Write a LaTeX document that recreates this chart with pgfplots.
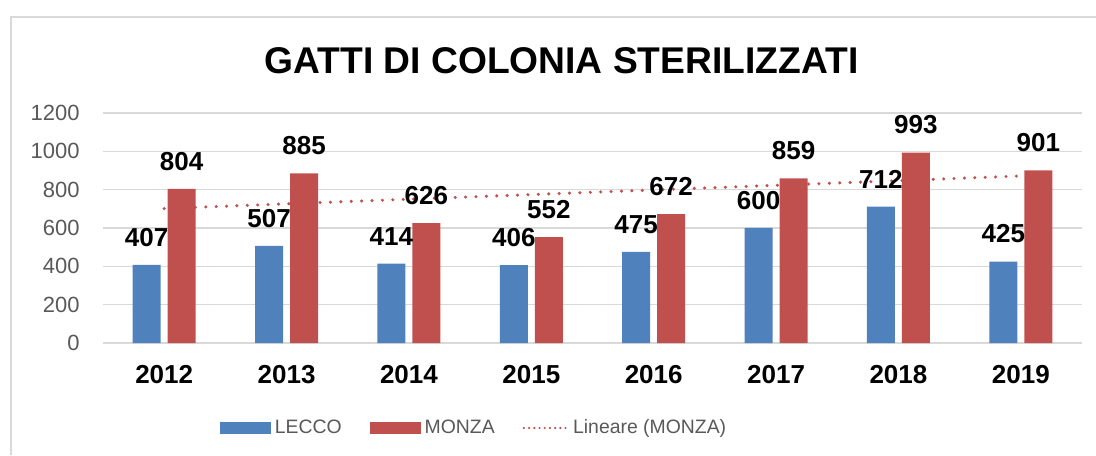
\documentclass[border=0pt]{standalone}
\usepackage{pgfplots}
\pgfplotsset{compat=1.18}
\usepackage{fontspec}
\setmainfont{Liberation Sans}
\definecolor{lblue}{HTML}{4F81BD}
\definecolor{mred}{HTML}{C0504D}
\definecolor{gridgray}{HTML}{D9D9D9}
\definecolor{txtgray}{HTML}{595959}
\begin{document}
\begin{tikzpicture}
\useasboundingbox (0,0) rectangle (548pt,227.5pt);
\draw[gridgray, line width=1pt] (5.5pt,0) -- (5.5pt,219pt) -- (548pt,219pt);
\node[font=\fontsize{18.6pt}{21pt}\selectfont\bfseries] at (280.75pt,197pt) {GATTI DI COLONIA STERILIZZATI};
\begin{axis}[
  at={(51.5pt,56pt)}, anchor=south west,
  scale only axis, width=489.5pt, height=115pt,
  xmin=-0.5, xmax=7.5, ymin=0, ymax=1200,
  ytick={0,200,...,1200},
  xtick={0,...,7},
  xticklabels={2012,2013,2014,2015,2016,2017,2018,2019},
  ymajorgrids, grid style={gridgray, line width=0.8pt},
  axis line style={draw=none}, tick style={draw=none},
  /pgf/number format/assume math mode=true,
  /pgf/number format/1000 sep={},
  yticklabel style={font=\fontsize{11pt}{13pt}\selectfont, text=txtgray, anchor=east, inner sep=0pt, xshift=-11.5pt},
  xticklabel style={font=\fontsize{13pt}{15pt}\selectfont\bfseries, anchor=center, inner sep=0pt, yshift=-16pt},
  legend columns=3,
  legend style={draw=none, at={(axis description cs:0.3800,-0.3696)}, anchor=center,
    font=\fontsize{9.7pt}{11pt}\selectfont, text=txtgray,
    /tikz/every even column/.append style={column sep=12pt}},
]
\addplot[ybar, bar width=14pt, bar shift=-8.75pt, fill=lblue, draw=none,
  nodes near coords,
  every node near coord/.append style={font=\fontsize{13pt}{15pt}\selectfont\bfseries, text=black, anchor=south, inner sep=0pt, yshift=9pt, xshift=-8.75pt},
  legend image code/.code={\fill[lblue] (0pt,-3pt) rectangle (25.5pt,3pt);}]
  coordinates {(0,407) (1,507) (2,414) (3,406) (4,475) (5,600) (6,712) (7,425)};
\addlegendentry{LECCO}
\addplot[ybar, bar width=14pt, bar shift=8.75pt, fill=mred, draw=none,
  nodes near coords,
  every node near coord/.append style={font=\fontsize{13pt}{15pt}\selectfont\bfseries, text=black, anchor=south, inner sep=0pt, yshift=9pt, xshift=8.75pt},
  legend image code/.code={\fill[mred] (0pt,-3pt) rectangle (25.5pt,3pt);}]
  coordinates {(0,804) (1,885) (2,626) (3,552) (4,672) (5,859) (6,993) (7,901)};
\addlegendentry{MONZA}
\addplot[sharp plot, no marks, mred, line width=1.7pt, line cap=round, dash pattern=on 0pt off 5.2pt,
  legend image code/.code={\draw[mred, line width=1.2pt, line cap=round, dash pattern=on 0pt off 2.6pt] (0pt,0pt) -- (22pt,0pt);}]
  coordinates {(0,701.6) (7,871.4)};
\addlegendentry{Lineare (MONZA)}
\end{axis}
\end{tikzpicture}
\end{document}
